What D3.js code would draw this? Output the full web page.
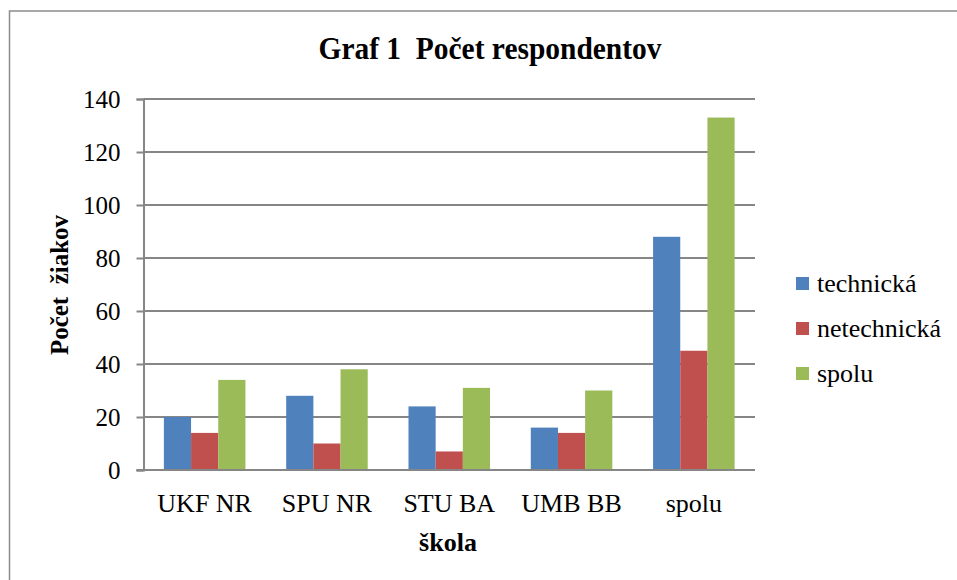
<!DOCTYPE html>
<html><head><meta charset="utf-8">
<script src="https://cdn.jsdelivr.net/npm/d3@7"></script>
<style>body{margin:0;background:#fff}svg{display:block}</style>
</head><body>
<script>
const categories = ["UKF NR", "SPU NR", "STU BA", "UMB BB", "spolu"];
const seriesNames = ["technická", "netechnická", "spolu"];
const technicka = [20, 28, 24, 16, 88];
const netechnicka = [14, 10, 7, 14, 45];
const spolu = [34, 38, 31, 30, 133];
const yTicks = [0, 20, 40, 60, 80, 100, 120, 140];
const colors = ["#4F81BD", "#C0504D", "#9BBB59"];
const title = "Graf 1  Počet respondentov";
const yTitle = "Počet  žiakov";
const xTitle = "škola";

const FONT = '"Liberation Serif"';
const W = 957, H = 580;
const svg = d3.select("body").append("svg").attr("width", W).attr("height", H);
svg.append("rect").attr("x", 9.5).attr("y", 11).attr("width", W + 20).attr("height", H + 20)
  .attr("fill", "#fff").attr("stroke", "#8c8c8c").attr("stroke-width", 1.5);

const m = {left: 143.5, right: 755, top: 99, bottom: 470};
const x = d3.scaleBand().domain(categories).range([m.left, m.right]).paddingInner(0).paddingOuter(0);
const band = x.bandwidth();
const barW = band / 4.5;
const y = d3.scaleLinear().domain([0, 140]).range([m.bottom, m.top]);

function font(sel, size, bold) {
  sel.attr("font-family", "Liberation Serif").style("font-family", FONT)
     .attr("font-size", size).style("font-size", size + "px")
     .style("font-weight", bold ? "bold" : "normal").attr("fill", "#000");
  return sel;
}

// gridlines
svg.append("g").selectAll("line").data(yTicks.filter(d => d > 0)).join("line")
  .attr("x1", m.left).attr("x2", m.right).attr("y1", d => y(d)).attr("y2", d => y(d))
  .attr("stroke", "#868686").attr("stroke-width", 2);

const data = [technicka, netechnicka, spolu];
data.forEach((vals, si) => {
  svg.append("g").selectAll("rect").data(vals).join("rect")
    .attr("x", (d, i) => x(categories[i]) + barW * 0.75 + si * barW)
    .attr("width", barW)
    .attr("y", d => y(d))
    .attr("height", d => y(0) - y(d))
    .attr("fill", colors[si]);
});

// y axis
const yAxis = svg.append("g").attr("transform", `translate(${m.left},0)`)
  .call(d3.axisLeft(y).tickValues(yTicks).tickSize(7).tickPadding(16));
yAxis.attr("font-family", null).attr("font-size", null);
yAxis.select(".domain").attr("stroke", "#868686").attr("stroke-width", 2);
yAxis.selectAll(".tick line").attr("stroke", "#868686").attr("stroke-width", 2);
font(yAxis.selectAll(".tick text"), 25, false).attr("dy", "0.34em");

// x axis line
svg.append("line").attr("x1", m.left - 7).attr("x2", m.right).attr("y1", y(0)).attr("y2", y(0))
  .attr("stroke", "#868686").attr("stroke-width", 2);
font(svg.append("g").selectAll("text").data(categories).join("text")
  .attr("x", d => x(d) + band / 2).attr("y", 511.5)
  .attr("text-anchor", "middle"), 26, false).text(d => d);

// titles
font(svg.append("text").attr("x", 490).attr("y", 59).attr("text-anchor", "middle"), 31, true)
  .style("white-space", "pre").attr("textLength", 343).attr("lengthAdjust", "spacingAndGlyphs").text(title);
font(svg.append("text").attr("transform", "translate(68,285) rotate(-90)").attr("text-anchor", "middle"), 25, true)
  .style("white-space", "pre").text(yTitle);
font(svg.append("text").attr("x", 448).attr("y", 551).attr("text-anchor", "middle"), 26, true).text(xTitle);

// legend
const lg = svg.append("g").selectAll("g").data(seriesNames).join("g")
  .attr("transform", (d, i) => `translate(796,${277 + i * 45})`);
lg.append("rect").attr("width", 13).attr("height", 13).attr("fill", (d, i) => colors[i]);
font(lg.append("text").attr("x", 21).attr("y", 15), 26, false).text(d => d);
</script>
</body></html>
